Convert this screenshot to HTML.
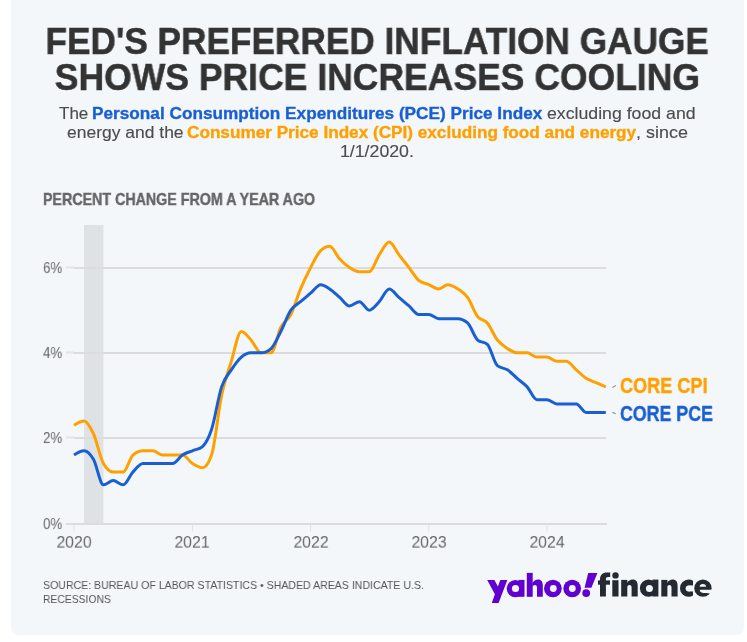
<!DOCTYPE html>
<html><head><meta charset="utf-8"><style>
html,body{margin:0;padding:0;background:#fff;width:747px;height:642px;overflow:hidden;}
body{position:relative;font-family:"Liberation Sans",sans-serif;}
.card{position:absolute;left:11px;top:-10px;width:733px;height:644.5px;background:#F4F7FA;border-radius:7px;}
.t{position:absolute;white-space:nowrap;line-height:1;will-change:transform;}
.c{transform-origin:center top;}
.l{transform-origin:left top;}
</style></head><body>
<div class="card"></div>
<div class="t c" style="left:0;width:754.3px;text-align:center;top:23.4px;font-size:37.2px;font-weight:bold;color:#333333;-webkit-text-stroke:0.5px #333333;transform:scaleX(0.9473)">FED'S PREFERRED INFLATION GAUGE</div>
<div class="t c" style="left:0;width:754.8px;text-align:center;top:58.9px;font-size:37.2px;font-weight:bold;color:#333333;-webkit-text-stroke:0.5px #333333;transform:scaleX(0.955)">SHOWS PRICE INCREASES COOLING</div>
<div class="t l" style="left:58.98px;top:104.8px;font-size:17px;font-weight:normal;color:#4D4D4D;-webkit-text-stroke:0.15px #4D4D4D;transform:scaleX(1.0004)">The</div>
<div class="t l" style="left:92.37px;top:104.8px;font-size:17px;font-weight:bold;color:#1A5FD2;-webkit-text-stroke:0.35px #1A5FD2;transform:scaleX(1.0121)">Personal Consumption Expenditures (PCE) Price Index</div>
<div class="t l" style="left:547.33px;top:104.8px;font-size:17px;font-weight:normal;color:#4D4D4D;-webkit-text-stroke:0.15px #4D4D4D;transform:scaleX(1.0411)">excluding food and</div>
<div class="t l" style="left:66.64px;top:123.8px;font-size:17px;font-weight:normal;color:#4D4D4D;-webkit-text-stroke:0.15px #4D4D4D;transform:scaleX(1.0278)">energy and the</div>
<div class="t l" style="left:187.36px;top:123.8px;font-size:17px;font-weight:bold;color:#FFA000;-webkit-text-stroke:0.35px #FFA000;transform:scaleX(1.0095)">Consumer Price Index (CPI) excluding food and energy</div>
<div class="t l" style="left:635.86px;top:123.8px;font-size:17px;font-weight:normal;color:#4D4D4D;-webkit-text-stroke:0.15px #4D4D4D;transform:scaleX(1.0566)">, since</div>
<div class="t l" style="left:339.98px;top:142.8px;font-size:17px;font-weight:normal;color:#4D4D4D;-webkit-text-stroke:0.15px #4D4D4D;transform:scaleX(1.0418)">1/1/2020.</div>
<div class="t l" style="left:42.8px;top:191px;font-size:17px;font-weight:bold;color:#666666;-webkit-text-stroke:0.45px #666666;transform:scaleX(0.8383)">PERCENT CHANGE FROM A YEAR AGO</div>
<svg width="747" height="642" style="position:absolute;left:0;top:0">
  <rect x="84.03" y="225" width="19.42" height="299" fill="#DFE2E5"/>
  <g fill="#DCDCDC">
    <rect x="74" y="267" width="532" height="2"/>
    <rect x="74" y="352" width="532" height="2"/>
    <rect x="74" y="437" width="532" height="2"/>
    <rect x="66" y="523" width="541" height="2"/>
  </g>
  <g fill="#E3E3E3">
    <rect x="66" y="266.5" width="8" height="2"/>
    <rect x="66" y="351.5" width="8" height="2"/>
    <rect x="66" y="436.5" width="8" height="2"/>
    <rect x="73.40" y="525" width="1.2" height="6.5"/>
    <rect x="191.87" y="525" width="1.2" height="6.5"/>
    <rect x="310.01" y="525" width="1.2" height="6.5"/>
    <rect x="428.15" y="525" width="1.2" height="6.5"/>
    <rect x="546.29" y="525" width="1.2" height="6.5"/>
  </g>
  <path d="M74.00,425.22C77.34,423.09 80.69,420.96 84.03,420.96C87.16,420.96 90.29,427.04 93.42,433.74C96.77,440.90 100.11,457.69 103.45,463.56C106.69,469.24 109.93,472.08 113.16,472.08C116.51,472.08 119.85,472.08 123.20,472.08C126.44,472.08 129.67,457.79 132.91,455.04C136.25,452.20 139.60,450.78 142.94,450.78C146.29,450.78 149.63,450.78 152.98,450.78C156.21,450.78 159.45,455.04 162.69,455.04C166.03,455.04 169.38,455.04 172.72,455.04C175.96,455.04 179.19,455.04 182.43,455.04C185.78,455.04 189.12,461.43 192.47,463.56C195.81,465.69 199.15,467.82 202.50,467.82C205.52,467.82 208.54,463.56 211.56,455.04C214.91,445.61 218.25,411.14 221.60,395.40C224.83,380.17 228.07,371.82 231.31,361.32C234.65,350.47 238.00,331.50 241.34,331.50C244.58,331.50 247.81,336.55 251.05,340.02C254.40,343.61 257.74,352.80 261.08,352.80C264.43,352.80 267.77,352.80 271.12,352.80C274.36,352.80 277.59,333.60 280.83,327.24C284.17,320.67 287.52,321.03 290.86,314.46C294.10,308.10 297.34,296.61 300.57,288.90C303.92,280.93 307.26,273.99 310.61,267.60C313.95,261.21 317.30,253.70 320.64,250.56C323.66,247.72 326.68,246.30 329.70,246.30C333.05,246.30 336.39,255.49 339.74,259.08C342.97,262.55 346.21,265.48 349.45,267.60C352.79,269.79 356.14,271.86 359.48,271.86C362.72,271.86 365.96,271.86 369.19,271.86C372.54,271.86 375.88,259.79 379.23,254.82C382.57,249.85 385.92,242.04 389.26,242.04C392.50,242.04 395.73,250.63 398.97,254.82C402.32,259.15 405.66,263.27 409.00,267.60C412.24,271.79 415.48,277.63 418.72,280.38C422.06,283.22 425.40,283.22 428.75,284.64C432.09,286.06 435.44,288.90 438.78,288.90C441.80,288.90 444.83,284.64 447.85,284.64C451.19,284.64 454.54,286.71 457.88,288.90C461.12,291.02 464.35,292.94 467.59,297.42C470.93,302.05 474.28,312.33 477.62,316.59C480.86,320.71 484.10,319.19 487.33,322.98C490.68,326.89 494.02,335.76 497.37,340.02C500.71,344.28 504.06,346.40 507.40,348.54C510.64,350.61 513.88,352.80 517.11,352.80C520.46,352.80 523.80,352.80 527.15,352.80C530.38,352.80 533.62,357.06 536.86,357.06C540.20,357.06 543.55,357.06 546.89,357.06C550.24,357.06 553.58,361.32 556.92,361.32C560.05,361.32 563.18,361.32 566.31,361.32C569.66,361.32 573.00,366.95 576.35,369.84C579.58,372.63 582.82,376.24 586.06,378.36C589.40,380.55 592.75,381.18 596.09,382.62C599.33,384.02 602.56,385.45 605.80,386.88" fill="none" stroke="#FFA000" stroke-width="3" stroke-linejoin="round" stroke-linecap="butt"/>
  <path d="M74.00,455.04C77.34,452.91 80.69,450.78 84.03,450.78C87.16,450.78 90.29,453.98 93.42,459.30C96.77,464.99 100.11,484.86 103.45,484.86C106.69,484.86 109.93,480.60 113.16,480.60C116.51,480.60 119.85,484.86 123.20,484.86C126.44,484.86 129.67,475.60 132.91,472.08C136.25,468.45 139.60,463.56 142.94,463.56C146.29,463.56 149.63,463.56 152.98,463.56C156.21,463.56 159.45,463.56 162.69,463.56C166.03,463.56 169.38,463.56 172.72,463.56C175.96,463.56 179.19,457.16 182.43,455.04C185.78,452.85 189.12,452.20 192.47,450.78C195.81,449.36 199.15,449.36 202.50,446.52C205.52,443.95 208.54,438.55 211.56,429.48C214.91,419.44 218.25,396.85 221.60,386.88C224.83,377.24 228.07,374.75 231.31,369.84C234.65,364.76 238.00,359.90 241.34,357.06C244.58,354.31 247.81,352.80 251.05,352.80C254.40,352.80 257.74,352.80 261.08,352.80C264.43,352.80 267.77,351.38 271.12,348.54C274.36,345.79 277.59,337.77 280.83,331.50C284.17,325.03 287.52,315.18 290.86,310.20C294.10,305.38 297.34,304.47 300.57,301.68C303.92,298.79 307.26,296.00 310.61,293.16C313.95,290.32 317.30,284.64 320.64,284.64C323.66,284.64 326.68,286.94 329.70,288.90C333.05,291.07 336.39,294.53 339.74,297.42C342.97,300.21 346.21,305.94 349.45,305.94C352.79,305.94 356.14,301.68 359.48,301.68C362.72,301.68 365.96,310.20 369.19,310.20C372.54,310.20 375.88,305.23 379.23,301.68C382.57,298.13 385.92,288.90 389.26,288.90C392.50,288.90 395.73,294.63 398.97,297.42C402.32,300.31 405.66,303.05 409.00,305.94C412.24,308.73 415.48,314.46 418.72,314.46C422.06,314.46 425.40,314.46 428.75,314.46C432.09,314.46 435.44,318.72 438.78,318.72C441.80,318.72 444.83,318.72 447.85,318.72C451.19,318.72 454.54,318.72 457.88,318.72C461.12,318.72 464.35,320.14 467.59,322.98C470.93,325.91 474.28,337.09 477.62,340.02C480.86,342.86 484.10,341.44 487.33,344.28C490.68,347.21 494.02,362.74 497.37,365.58C500.71,368.42 504.06,367.65 507.40,369.84C510.64,371.96 513.88,375.57 517.11,378.36C520.46,381.25 523.80,383.25 527.15,386.88C530.38,390.40 533.62,399.66 536.86,399.66C540.20,399.66 543.55,399.66 546.89,399.66C550.24,399.66 553.58,403.92 556.92,403.92C560.05,403.92 563.18,403.92 566.31,403.92C569.66,403.92 573.00,403.92 576.35,403.92C579.58,403.92 582.82,412.44 586.06,412.44C589.40,412.44 592.75,412.44 596.09,412.44C599.33,412.44 602.56,412.44 605.80,412.44" fill="none" stroke="#1A5FD2" stroke-width="3" stroke-linejoin="round" stroke-linecap="butt"/>
  <g stroke="#999" stroke-width="1.2">
    <line x1="612.3" y1="387.4" x2="615.9" y2="385.4"/>
    <line x1="612.3" y1="412.4" x2="615.9" y2="413.8"/>
  </g>
</svg>
<div class="t l" style="left:43.3px;top:261px;font-size:16px;color:#666666;transform:scale(0.83,0.93)">6%</div>
<div class="t l" style="left:43.3px;top:346px;font-size:16px;color:#666666;transform:scale(0.83,0.93)">4%</div>
<div class="t l" style="left:43.3px;top:431px;font-size:16px;color:#666666;transform:scale(0.83,0.93)">2%</div>
<div class="t l" style="left:43.3px;top:517px;font-size:16px;color:#666666;transform:scale(0.83,0.93)">0%</div>
<div class="t c" style="left:34.00px;width:80px;text-align:center;top:534.6px;font-size:16px;color:#666666;transform:scale(0.985,0.97)">2020</div>
<div class="t c" style="left:152.47px;width:80px;text-align:center;top:534.6px;font-size:16px;color:#666666;transform:scale(0.985,0.97)">2021</div>
<div class="t c" style="left:270.61px;width:80px;text-align:center;top:534.6px;font-size:16px;color:#666666;transform:scale(0.985,0.97)">2022</div>
<div class="t c" style="left:388.75px;width:80px;text-align:center;top:534.6px;font-size:16px;color:#666666;transform:scale(0.985,0.97)">2023</div>
<div class="t c" style="left:506.89px;width:80px;text-align:center;top:534.6px;font-size:16px;color:#666666;transform:scale(0.985,0.97)">2024</div>
<div class="t l" style="left:620.1px;top:376px;font-size:21.5px;font-weight:bold;color:#FFA000;-webkit-text-stroke:0.4px #FFA000;transform:scaleX(0.8425)">CORE CPI</div>
<div class="t l" style="left:620.1px;top:404px;font-size:21.5px;font-weight:bold;color:#1A5FD2;-webkit-text-stroke:0.4px #1A5FD2;transform:scaleX(0.827)">CORE PCE</div>
<div class="t l" style="left:42.7px;top:580px;font-size:11.5px;color:#555;transform:scaleX(0.9194)">SOURCE: BUREAU OF LABOR STATISTICS • SHADED AREAS INDICATE U.S.</div>
<div class="t l" style="left:43px;top:593.8px;font-size:11.5px;color:#555;transform:scaleX(0.9)">RECESSIONS</div>
<svg width="747" height="642" style="position:absolute;left:0;top:0">
<defs><clipPath id="cc"><rect x="670" y="570" width="22.9" height="30"/></clipPath></defs>
<g fill="#6001D2">
  <polygon points="487.2,580 494.4,580 497.9,586.4 500.3,580 507.3,580 498.6,603 491.8,603 494.9,594.3"/>
  <circle cx="515.4" cy="588.6" r="8.7"/>
  <rect x="518.6" y="579.9" width="5.9" height="16.9"/>
  <rect x="526.8" y="572.9" width="5.9" height="23.9"/>
  <path d="M532.2,583.2 C533.6,580.9 535.6,579.5 538.2,579.5 C541.2,579.5 542.8,581.8 542.8,585.6 V596.8 H537 V587.6 C537,586 536.3,585.1 535,585.1 C533.8,585.1 532.9,585.8 532.4,587 Z"/>
  <circle cx="552.9" cy="588.5" r="8.85"/>
  <circle cx="572.2" cy="588.5" r="8.85"/>
  <polygon points="588.2,573 597.4,573 591.4,587.7 584.6,587.7"/>
  <circle cx="586.2" cy="593.1" r="3.9"/>
</g>
<g fill="#F4F7FA">
  <circle cx="515.5" cy="588.5" r="3.6"/>
  <circle cx="553.3" cy="588.5" r="3.4"/>
  <circle cx="572.3" cy="588.5" r="3.4"/>
</g>
<g fill="#232A31">
  <path d="M600,596.5 V579 C600,575 602.8,572.4 607,572.4 H610.2 V577 H608.2 C606.7,577 605.9,577.8 605.9,579.3 V596.5 Z"/>
  <rect x="598" y="580.4" width="12" height="4.3"/>
  <rect x="612.3" y="580.2" width="6.2" height="16.3"/>
  <circle cx="615.5" cy="575.4" r="3.2"/>
  <rect x="621.2" y="579.9" width="6.1" height="16.6"/>
  <path d="M626.8,583.2 C628.2,580.9 630.2,579.6 632.8,579.6 C636,579.6 637.7,581.9 637.7,585.6 V596.5 H631.6 V587.6 C631.6,586 630.9,585.1 629.6,585.1 C628.4,585.1 627.5,585.8 627,587 Z"/>
  <circle cx="648.5" cy="588.2" r="8.6"/>
  <rect x="652.4" y="579.6" width="6" height="16.9"/>
  <rect x="661.3" y="579.9" width="6.1" height="16.6"/>
  <path d="M666.9,583.2 C668.3,580.9 670.3,579.6 672.8,579.6 C675.9,579.6 677.6,581.9 677.6,585.6 V596.5 H671.5 V587.6 C671.5,586 670.8,585.1 669.5,585.1 C668.3,585.1 667.4,585.8 666.9,587 Z"/>
  <circle cx="688.6" cy="588.2" r="8.6" clip-path="url(#cc)"/>
  <circle cx="702.95" cy="588.15" r="8.65"/>
</g>
<g fill="#F4F7FA">
  <circle cx="649.4" cy="588.5" r="3.5"/>
  <circle cx="688.65" cy="588.45" r="3.0"/>
  <rect x="688.65" y="585.45" width="5" height="6"/>
  <path d="M699.7,586.7 A3.15,2.6 0 0 1 706,586.7 Z"/>
  <path d="M699.7,589.8 H712 V592.6 L709.5,593.6 C707.5,592.9 705.5,592.9 703.2,592.9 C701,592.9 699.7,591.6 699.7,589.8 Z"/>
</g>
</svg>
</body></html>
